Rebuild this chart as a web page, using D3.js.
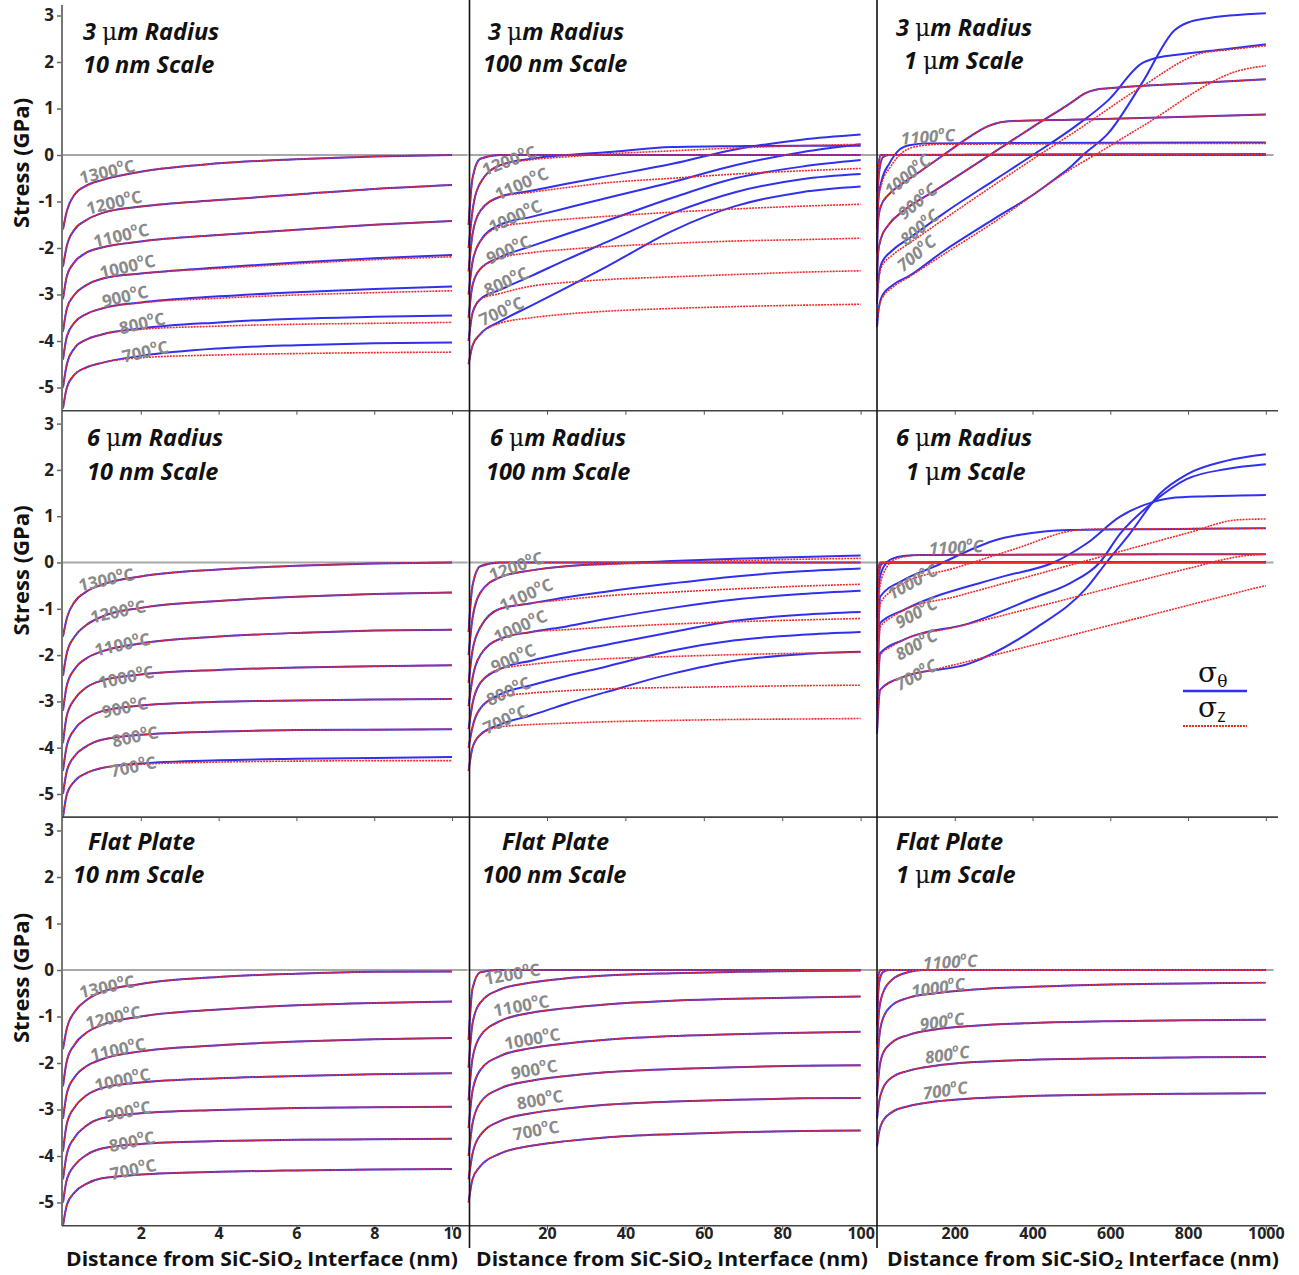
<!DOCTYPE html>
<html>
<head>
<meta charset="utf-8">
<script src="https://cdn.jsdelivr.net/npm/d3@7/dist/d3.min.js"></script>
<style>
  body { margin: 0; background: #fff; }
  svg { display: block; }
</style>
</head>
<body>
<div id="chart"></div>
<script>
// Stress vs distance from SiC-SiO2 interface, 3x3 panels

// ---- data ----
const temps = [1300, 1200, 1100, 1000, 900, 800, 700];

const x10nm = [0, 0.1, 0.3, 0.6, 1, 2, 4, 6, 8, 10];
const x100nm = [0, 1, 3, 8, 16, 25, 35, 52, 68, 85, 100];

const xTicks10 = [2, 4, 6, 8, 10];
const xTicks100 = [20, 40, 60, 80, 100];
const xTicks1um = [200, 400, 600, 800, 1000];
const yTicks = [3, 2, 1, 0, -1, -2, -3, -4, -5];

// 3 um radius, 10 nm scale (rows follow temps)
const r3_10_theta = [
  [-1.6, -1.2, -0.85, -0.66, -0.54, -0.36, -0.18, -0.09, -0.03, 0],
  [-2.4, -1.95, -1.6, -1.4, -1.25, -1.11, -0.97, -0.85, -0.73, -0.645],
  [-3.1, -2.6, -2.3, -2.1, -1.99, -1.86, -1.72, -1.61, -1.5, -1.42],
  [-3.8, -3.3, -3.0, -2.8, -2.66, -2.55, -2.42, -2.31, -2.22, -2.15],
  [-4.4, -3.9, -3.6, -3.42, -3.3, -3.17, -3.04, -2.95, -2.88, -2.83],
  [-5.0, -4.5, -4.15, -3.97, -3.86, -3.73, -3.6, -3.52, -3.48, -3.45],
  [-5.45, -5.0, -4.72, -4.57, -4.47, -4.32, -4.16, -4.09, -4.05, -4.03]
];
const r3_10_z = [
  [-1.6, -1.2, -0.85, -0.66, -0.54, -0.36, -0.18, -0.09, -0.03, 0],
  [-2.4, -1.95, -1.6, -1.4, -1.25, -1.11, -0.97, -0.85, -0.73, -0.645],
  [-3.1, -2.6, -2.3, -2.1, -1.99, -1.86, -1.72, -1.61, -1.5, -1.42],
  [-3.8, -3.3, -3.0, -2.8, -2.66, -2.55, -2.44, -2.34, -2.25, -2.19],
  [-4.4, -3.9, -3.6, -3.42, -3.3, -3.18, -3.08, -3.01, -2.96, -2.92],
  [-5.0, -4.5, -4.15, -3.97, -3.86, -3.75, -3.68, -3.64, -3.62, -3.6],
  [-5.45, -5.0, -4.72, -4.57, -4.47, -4.36, -4.3, -4.27, -4.25, -4.24]
];

// 6 um radius, 10 nm scale
const r6_10_theta = [
  [-1.6, -1.2, -0.85, -0.63, -0.48, -0.3, -0.15, -0.07, -0.02, 0],
  [-2.45, -1.95, -1.6, -1.35, -1.17, -0.98, -0.83, -0.74, -0.68, -0.65],
  [-3.2, -2.65, -2.3, -2.07, -1.92, -1.75, -1.6, -1.52, -1.47, -1.45],
  [-3.9, -3.3, -2.95, -2.7, -2.55, -2.42, -2.32, -2.27, -2.24, -2.22],
  [-4.5, -3.95, -3.6, -3.37, -3.21, -3.09, -3.01, -2.98, -2.96, -2.95],
  [-5.0, -4.5, -4.18, -3.97, -3.83, -3.72, -3.65, -3.62, -3.61, -3.6],
  [-5.5, -5.0, -4.72, -4.55, -4.44, -4.34, -4.27, -4.24, -4.22, -4.2]
];
const r6_10_z = [
  [-1.6, -1.2, -0.85, -0.63, -0.48, -0.3, -0.15, -0.07, -0.02, 0],
  [-2.45, -1.95, -1.6, -1.35, -1.17, -0.98, -0.83, -0.74, -0.68, -0.65],
  [-3.2, -2.65, -2.3, -2.07, -1.92, -1.75, -1.6, -1.52, -1.47, -1.45],
  [-3.9, -3.3, -2.95, -2.7, -2.55, -2.42, -2.32, -2.27, -2.24, -2.22],
  [-4.5, -3.95, -3.6, -3.37, -3.21, -3.09, -3.01, -2.98, -2.96, -2.95],
  [-5.0, -4.5, -4.18, -3.97, -3.83, -3.72, -3.65, -3.62, -3.61, -3.6],
  [-5.5, -5.0, -4.72, -4.55, -4.44, -4.36, -4.31, -4.29, -4.28, -4.28]
];

// flat plate, 10 nm scale (sigma_theta and sigma_z coincide)
const flat_10_theta = [
  [-1.7, -1.25, -0.9, -0.65, -0.47, -0.3, -0.15, -0.08, -0.04, -0.03],
  [-2.5, -1.95, -1.6, -1.35, -1.18, -1.0, -0.85, -0.76, -0.71, -0.68],
  [-3.2, -2.65, -2.3, -2.07, -1.92, -1.75, -1.62, -1.54, -1.49, -1.46],
  [-3.9, -3.3, -2.95, -2.7, -2.54, -2.42, -2.33, -2.28, -2.24, -2.22],
  [-4.5, -3.95, -3.6, -3.35, -3.19, -3.08, -3.01, -2.97, -2.95, -2.94],
  [-5.0, -4.5, -4.2, -3.98, -3.84, -3.74, -3.68, -3.65, -3.64, -3.63],
  [-5.5, -5.05, -4.78, -4.6, -4.48, -4.4, -4.34, -4.31, -4.29, -4.28]
];
const flat_10_z = flat_10_theta;

// 3 um radius, 100 nm scale
const r3_100_theta = [
  [-1.5, -0.5, -0.08, 0, 0, 0, 0, 0, 0, 0, 0],
  [-2.0, -1.2, -0.6, -0.22, -0.08, 0.0, 0.06, 0.17, 0.19, 0.2, 0.2],
  [-2.5, -1.7, -1.2, -0.9, -0.77, -0.62, -0.46, -0.19, 0.12, 0.33, 0.44],
  [-3.0, -2.3, -1.85, -1.5, -1.33, -1.14, -0.93, -0.58, -0.22, 0.06, 0.23],
  [-3.5, -2.8, -2.45, -2.2, -1.96, -1.7, -1.42, -0.92, -0.5, -0.25, -0.11],
  [-4.0, -3.4, -3.1, -2.9, -2.6, -2.25, -1.88, -1.25, -0.8, -0.52, -0.41],
  [-4.5, -4.1, -3.85, -3.58, -3.24, -2.85, -2.41, -1.63, -1.1, -0.8, -0.68]
];
const r3_100_z = [
  [-1.5, -0.5, -0.08, 0, 0, 0, 0, 0, 0, 0, 0],
  [-2.0, -1.2, -0.6, -0.22, -0.1, -0.04, 0.02, 0.09, 0.15, 0.2, 0.23],
  [-2.5, -1.7, -1.2, -0.9, -0.8, -0.7, -0.6, -0.5, -0.41, -0.34, -0.29],
  [-3.0, -2.3, -1.85, -1.55, -1.45, -1.38, -1.32, -1.23, -1.16, -1.1, -1.06],
  [-3.5, -2.8, -2.45, -2.22, -2.1, -2.03, -1.97, -1.9, -1.85, -1.82, -1.79],
  [-4.0, -3.4, -3.1, -2.98, -2.82, -2.74, -2.68, -2.62, -2.57, -2.52, -2.49],
  [-4.5, -4.1, -3.85, -3.62, -3.5, -3.42, -3.36, -3.3, -3.26, -3.23, -3.21]
];

// 6 um radius, 100 nm scale
const r6_100_theta = [
  [-1.5, -0.5, -0.08, 0, 0, 0, 0, 0, 0, 0, 0],
  [-2.0, -1.2, -0.65, -0.32, -0.17, -0.08, -0.03, 0.03, 0.08, 0.12, 0.15],
  [-2.6, -1.9, -1.4, -1.0, -0.88, -0.75, -0.63, -0.45, -0.3, -0.19, -0.13],
  [-3.1, -2.5, -2.0, -1.65, -1.5, -1.38, -1.22, -0.98, -0.8, -0.68, -0.61],
  [-3.6, -3.05, -2.6, -2.3, -2.12, -1.95, -1.78, -1.5, -1.26, -1.13, -1.07],
  [-4.0, -3.55, -3.15, -2.85, -2.65, -2.45, -2.25, -1.9, -1.68, -1.56, -1.5],
  [-4.5, -4.0, -3.72, -3.5, -3.3, -3.05, -2.8, -2.4, -2.12, -1.98, -1.93]
];
const r6_100_z = [
  [-1.5, -0.5, -0.08, 0, 0, 0, 0, 0, 0, 0, 0],
  [-2.0, -1.2, -0.65, -0.32, -0.17, -0.08, -0.04, 0.0, 0.04, 0.07, 0.09],
  [-2.6, -1.9, -1.4, -1.0, -0.88, -0.8, -0.72, -0.64, -0.57, -0.51, -0.47],
  [-3.1, -2.5, -2.0, -1.65, -1.5, -1.45, -1.4, -1.33, -1.28, -1.24, -1.21],
  [-3.6, -3.05, -2.6, -2.3, -2.2, -2.13, -2.08, -2.03, -1.99, -1.96, -1.94],
  [-4.0, -3.55, -3.15, -2.9, -2.82, -2.77, -2.73, -2.7, -2.68, -2.66, -2.65],
  [-4.5, -4.0, -3.72, -3.55, -3.5, -3.47, -3.44, -3.41, -3.39, -3.38, -3.37]
];

// flat plate, 100 nm scale
const flat_100_theta = [
  [-1.5, -0.4, -0.05, 0, 0, 0, 0, 0, 0, 0, 0],
  [-2.1, -1.15, -0.7, -0.42, -0.27, -0.18, -0.12, -0.07, -0.04, -0.02, -0.01],
  [-2.8, -1.9, -1.42, -1.1, -0.92, -0.82, -0.74, -0.66, -0.62, -0.59, -0.57],
  [-3.4, -2.6, -2.15, -1.85, -1.68, -1.58, -1.5, -1.42, -1.38, -1.35, -1.33],
  [-4.0, -3.3, -2.85, -2.55, -2.38, -2.28, -2.2, -2.13, -2.09, -2.06, -2.05],
  [-4.5, -3.95, -3.55, -3.25, -3.08, -2.98, -2.9, -2.83, -2.79, -2.76, -2.75],
  [-5.0, -4.5, -4.22, -3.95, -3.78, -3.68, -3.6, -3.53, -3.49, -3.46, -3.45]
];
const flat_100_z = flat_100_theta;

// 1 um scale panels: [distance nm, stress GPa] pairs
const r3_1um_theta = [
  [[0, -0.8], [4, -0.2], [10, 0], [1000, 0]],
  [[0, -1.2], [5, -0.4], [15, -0.05], [30, 0], [1000, 0.02]],
  [[0, -1.6], [4, -0.9], [12, -0.55], [32, -0.18], [57, 0.11], [83, 0.21], [130, 0.25], [1000, 0.27]],
  [[0, -2.1], [3, -1.4], [10, -1.1], [30, -0.85], [68, -0.6], [110, -0.36], [171, 0], [240, 0.4], [280, 0.6], [310, 0.69], [350, 0.73], [500, 0.76], [750, 0.81], [1000, 0.87]],
  [[0, -2.7], [3, -2.1], [10, -1.8], [30, -1.5], [68, -1.2], [150, -0.76], [290, 0], [400, 0.6], [509, 1.18], [531, 1.31], [560, 1.4], [620, 1.45], [800, 1.54], [1000, 1.63]],
  [[0, -3.2], [3, -2.75], [12, -2.32], [40, -2.05], [83, -1.79], [169, -1.27], [300, -0.55], [401, 0], [509, 0.61], [595, 1.18], [681, 1.97], [715, 2.08], [766, 2.15], [900, 2.28], [1000, 2.38]],
  [[0, -3.7], [3, -3.4], [12, -3.05], [40, -2.8], [83, -2.6], [169, -2.08], [300, -1.38], [411, -0.8], [460, -0.5], [500, -0.24], [530, 0], [595, 0.47], [681, 1.54], [766, 2.69], [800, 2.85], [840, 2.93], [1000, 3.05]]
];
const r3_1um_z = [
  [[0, -0.8], [4, -0.2], [10, 0], [1000, 0]],
  [[0, -1.2], [5, -0.4], [15, -0.05], [30, 0], [1000, 0.02]],
  [[0, -1.6], [4, -0.95], [12, -0.62], [35, -0.25], [65, 0.05], [100, 0.18], [160, 0.23], [1000, 0.25]],
  [[0, -2.1], [3, -1.4], [10, -1.1], [30, -0.85], [68, -0.6], [110, -0.36], [171, 0], [240, 0.4], [280, 0.6], [310, 0.69], [350, 0.73], [500, 0.76], [750, 0.81], [1000, 0.87]],
  [[0, -2.7], [3, -2.1], [10, -1.8], [30, -1.5], [68, -1.2], [150, -0.76], [290, 0], [400, 0.6], [509, 1.18], [531, 1.31], [560, 1.4], [620, 1.45], [800, 1.54], [1000, 1.63]],
  [[0, -3.2], [3, -2.8], [12, -2.4], [40, -2.15], [83, -1.9], [169, -1.4], [417, 0], [509, 0.5], [681, 1.47], [835, 2.19], [900, 2.26], [1000, 2.35]],
  [[0, -3.7], [3, -3.4], [12, -3.1], [40, -2.85], [83, -2.62], [169, -2.15], [300, -1.45], [509, -0.25], [560, 0], [681, 0.61], [938, 1.83], [1000, 1.92]]
];

const r6_1um_theta = [
  [[0, -0.8], [4, -0.1], [10, 0], [1000, 0]],
  [[0, -1.2], [4, -0.3], [12, -0.03], [25, 0], [1000, 0.01]],
  [[0, -1.7], [3, -0.9], [8, -0.3], [25, 0.0], [42, 0.09], [68, 0.14], [111, 0.16], [1000, 0.18]],
  [[0, -2.2], [3, -1.6], [8, -0.74], [68, -0.38], [150, -0.08], [239, 0.27], [300, 0.47], [368, 0.6], [430, 0.67], [496, 0.7], [700, 0.72], [1000, 0.74]],
  [[0, -2.7], [3, -2.0], [8, -1.31], [68, -1.03], [325, -0.3], [454, 0.0], [539, 0.41], [625, 0.99], [711, 1.31], [754, 1.39], [850, 1.43], [1000, 1.46]],
  [[0, -3.2], [3, -2.6], [8, -1.96], [68, -1.67], [239, -1.31], [411, -0.74], [496, -0.45], [573, 0], [625, 0.62], [711, 1.31], [796, 1.8], [900, 2.02], [1000, 2.12]],
  [[0, -3.7], [3, -3.2], [8, -2.75], [68, -2.47], [239, -2.18], [411, -1.4], [539, -0.55], [590, 0], [650, 0.62], [728, 1.49], [796, 1.9], [900, 2.2], [1000, 2.34]]
];
const r6_1um_z = [
  [[0, -0.8], [4, -0.1], [10, 0], [1000, 0]],
  [[0, -1.2], [4, -0.3], [12, -0.03], [25, 0], [1000, 0.01]],
  [[0, -1.7], [3, -1.0], [8, -0.5], [25, -0.1], [42, 0.05], [68, 0.12], [111, 0.16], [1000, 0.18]],
  [[0, -2.2], [3, -1.6], [8, -0.9], [40, -0.6], [68, -0.45], [200, -0.12], [350, 0.28], [514, 0.7], [560, 0.72], [800, 0.73], [1000, 0.74]],
  [[0, -2.7], [3, -2.1], [8, -1.4], [40, -1.17], [68, -1.03], [200, -0.74], [400, -0.28], [600, 0.18], [800, 0.64], [925, 0.92], [1000, 0.94]],
  [[0, -3.2], [3, -2.6], [8, -2.0], [40, -1.8], [68, -1.67], [200, -1.4], [400, -0.98], [600, -0.55], [800, -0.13], [925, 0.12], [960, 0.16], [1000, 0.18]],
  [[0, -3.7], [3, -3.2], [8, -2.75], [68, -2.47], [154, -2.3], [300, -2.0], [500, -1.57], [700, -1.14], [900, -0.71], [950, -0.6], [1000, -0.5]]
];

const flat_1um_theta = [
  [[0, -0.8], [4, -0.1], [10, 0], [1000, 0]],
  [[0, -1.2], [5, -0.3], [15, -0.05], [30, 0], [1000, 0]],
  [[0, -1.6], [5, -0.9], [15, -0.5], [40, -0.2], [80, -0.05], [120, 0], [1000, 0]],
  [[0, -2.2], [5, -1.5], [15, -1.05], [40, -0.75], [80, -0.6], [150, -0.5], [250, -0.42], [400, -0.36], [600, -0.31], [800, -0.29], [1000, -0.27]],
  [[0, -2.7], [5, -2.2], [15, -1.8], [40, -1.55], [80, -1.4], [150, -1.28], [250, -1.2], [400, -1.14], [600, -1.1], [800, -1.08], [1000, -1.07]],
  [[0, -3.2], [5, -2.85], [15, -2.55], [40, -2.3], [80, -2.17], [150, -2.06], [250, -1.98], [400, -1.93], [600, -1.9], [800, -1.88], [1000, -1.87]],
  [[0, -3.8], [5, -3.5], [15, -3.25], [40, -3.05], [80, -2.93], [150, -2.83], [250, -2.76], [400, -2.71], [600, -2.68], [800, -2.66], [1000, -2.65]]
];
const flat_1um_z = flat_1um_theta;

// temperature labels: [temp, distance, stress]
const labels_r3_10 = [[1300, 1.13, -0.34], [1200, 1.31, -1.0], [1100, 1.49, -1.71], [1000, 1.65, -2.38], [900, 1.59, -3.02], [800, 2.03, -3.6], [700, 2.11, -4.21]];
const labels_r6_10 = [[1300, 1.11, -0.35], [1200, 1.41, -1.04], [1100, 1.52, -1.75], [1000, 1.62, -2.46], [900, 1.59, -3.11], [800, 1.85, -3.74], [700, 1.8, -4.39]];
const labels_flat_10 = [[1300, 1.13, -0.34], [1200, 1.29, -1.0], [1100, 1.41, -1.69], [1000, 1.52, -2.34], [900, 1.67, -3.02], [800, 1.77, -3.67], [700, 1.8, -4.27]];
const labels_r3_100 = [[1200, 10.3, -0.1], [1100, 13.4, -0.6], [1000, 11.8, -1.3], [900, 10.1, -2.02], [800, 9.5, -2.7], [700, 8.3, -3.34]];
const labels_r6_100 = [[1200, 12.1, -0.06], [1100, 14.6, -0.68], [1000, 13.1, -1.36], [900, 11.3, -2.05], [800, 10.1, -2.76], [700, 9.3, -3.37]];
const labels_flat_100 = [[1200, 11.1, -0.07], [1100, 13.4, -0.75], [1000, 16.2, -1.46], [900, 16.7, -2.12], [800, 18.2, -2.77], [700, 17.2, -3.43]];
const labels_r3_1um = [[1100, 131, 0.41], [1000, 77, -0.42], [900, 103, -0.98], [800, 108, -1.54], [700, 100, -2.1]];
const labels_r6_1um = [[1100, 203, 0.35], [1000, 90, -0.4], [900, 100, -1.07], [800, 100, -1.76], [700, 100, -2.41]];
const labels_flat_1um = [[1100, 188, 0.19], [1000, 157, -0.36], [900, 167, -1.09], [800, 180, -1.8], [700, 175, -2.57]];

const titleTop = ["3 μm Radius", "6 μm Radius", "Flat Plate"];
const titleScale = ["10 nm Scale", "100 nm Scale", "1 μm Scale"];
const xTitle = "Distance from SiC-SiO";
const yTitle = "Stress (GPa)";

// ---- layout ----
const W = 1299, H = 1275;
const blue = "#3030ee", red = "#f02a2a", grayLabel = "#8a8a8a";

const colX = [
  d3.scaleLinear().domain([0, 10.4]).range([63, 467.6]),
  d3.scaleLinear().domain([0, 104]).range([468.6, 876.3]),
  d3.scaleLinear().domain([0, 1020]).range([877, 1273.6])
];
const zeroY = [155, 562.5, 970];
const unitY = [46.5, 46.3, 46.5];
const rowY = zeroY.map((z, i) => d3.scaleLinear()
  .domain([-5.5, 3.2])
  .range([z + 5.5 * unitY[i], z - 3.2 * unitY[i]]));

const panels = [
  { row: 0, col: 0, grid: x10nm, theta: r3_10_theta, z: r3_10_z, labels: labels_r3_10, ang: -13, ang0: -13, tx: [83, 83], ty: [40, 73] },
  { row: 0, col: 1, grid: x100nm, theta: r3_100_theta, z: r3_100_z, labels: labels_r3_100, ang: -24, ang0: -20, tx: [488, 483], ty: [40, 72] },
  { row: 0, col: 2, grid: null, theta: r3_1um_theta, z: r3_1um_z, labels: labels_r3_1um, ang: -40, ang0: -4, tx: [896, 904], ty: [36, 69] },
  { row: 1, col: 0, grid: x10nm, theta: r6_10_theta, z: r6_10_z, labels: labels_r6_10, ang: -12, ang0: -12, tx: [87, 87], ty: [446, 480] },
  { row: 1, col: 1, grid: x100nm, theta: r6_100_theta, z: r6_100_z, labels: labels_r6_100, ang: -24, ang0: -19, tx: [490, 486], ty: [446, 480] },
  { row: 1, col: 2, grid: null, theta: r6_1um_theta, z: r6_1um_z, labels: labels_r6_1um, ang: -29, ang0: -3, tx: [896, 906], ty: [446, 480] },
  { row: 2, col: 0, grid: x10nm, theta: flat_10_theta, z: flat_10_z, labels: labels_flat_10, ang: -12, ang0: -12, tx: [88, 73], ty: [850, 883] },
  { row: 2, col: 1, grid: x100nm, theta: flat_100_theta, z: flat_100_z, labels: labels_flat_100, ang: -10, ang0: -10, tx: [502, 482], ty: [850, 883] },
  { row: 2, col: 2, grid: null, theta: flat_1um_theta, z: flat_1um_z, labels: labels_flat_1um, ang: -8, ang0: -3, tx: [896, 896], ty: [850, 883] }
];

const svg = d3.select("#chart")
  .append("svg")
  .attr("width", W)
  .attr("height", H)
  .style("font-family", "'Open Sans', 'DejaVu Sans', sans-serif");

const line = d3.line().curve(d3.curveMonotoneX);

// title with an upright serif mu
function titleText(g, str, x, y) {
  const t = g.append("text")
    .attr("x", x).attr("y", y)
    .attr("font-size", 23.5)
    .attr("font-weight", "bold")
    .attr("font-style", "italic")
    .attr("fill", "#111");
  str.split(/(μ)/).forEach(part => {
    if (part === "μ") {
      t.append("tspan").attr("font-family", "'DejaVu Serif', serif")
        .attr("font-style", "normal").attr("font-weight", "normal").text("μ");
    } else if (part) {
      t.append("tspan").text(part);
    }
  });
}

panels.forEach(p => {
  const x = colX[p.col];
  const y = rowY[p.row];
  const g = svg.append("g");

  // zero reference line
  g.append("line")
    .attr("x1", x.range()[0]).attr("x2", x.range()[1])
    .attr("y1", y(0)).attr("y2", y(0))
    .attr("stroke", "#a8a8a8")
    .attr("stroke-width", 2);

  const toPts = s => p.grid ? s.map((v, i) => [p.grid[i], v]) : s;
  line.x(d => x(d[0])).y(d => y(d[1]));

  g.selectAll("path.theta")
    .data(p.theta.map(toPts))
    .join("path")
    .attr("class", "theta")
    .attr("d", line)
    .attr("fill", "none")
    .attr("stroke", blue)
    .attr("stroke-width", 2);

  g.selectAll("path.sz")
    .data(p.z.map(toPts))
    .join("path")
    .attr("class", "sz")
    .attr("d", line)
    .attr("fill", "none")
    .attr("stroke", red)
    .attr("stroke-width", 1.6)
    .attr("stroke-dasharray", "2,1");

  // temperature labels
  p.labels.forEach((l, i) => {
    const ang = i === 0 ? p.ang0 : p.ang;
    const t = g.append("text")
      .attr("transform", `translate(${x(l[1])},${y(l[2])}) rotate(${ang})`)
      .attr("text-anchor", "middle")
      .attr("dominant-baseline", "central")
      .attr("font-size", 17)
      .attr("font-weight", "bold")
      .attr("font-style", p.col === 2 ? "italic" : "normal")
      .attr("fill", grayLabel);
    t.append("tspan").text(l[0]);
    t.append("tspan").attr("dy", -6).attr("font-size", 11).text("o");
    t.append("tspan").attr("dy", 6).text("C");
  });

  // panel titles
  titleText(svg, titleTop[p.row], p.tx[0], p.ty[0]);
  titleText(svg, titleScale[p.col], p.tx[1], p.ty[1]);
});

// Y axes (left column only)
rowY.forEach((y, r) => {
  const ax = svg.append("g")
    .attr("transform", "translate(62,0)")
    .call(d3.axisLeft(y).tickValues(yTicks).tickSize(5).tickFormat(d => String(d)));
  ax.select(".domain").remove();
  ax.selectAll(".tick line").attr("stroke", "#666").attr("stroke-width", 1.5);
  ax.selectAll(".tick text")
    .attr("font-size", 17).attr("font-weight", "bold")
    .attr("fill", "#222").attr("x", -8)
    .style("font-family", "'Open Sans', sans-serif");

  svg.append("text")
    .attr("transform", `translate(29,${zeroY[r] + 8}) rotate(-90)`)
    .attr("text-anchor", "middle")
    .attr("font-size", 22)
    .attr("font-weight", "bold")
    .attr("fill", "#111")
    .text(yTitle);
});

// Y axis line through all rows
svg.append("line")
  .attr("x1", 62).attr("x2", 62)
  .attr("y1", 5).attr("y2", 1226)
  .attr("stroke", "#777").attr("stroke-width", 2);

// bottom axis line of each row, with ticks
const xTickSets = [xTicks10, xTicks100, xTicks1um];
rowY.forEach((y, r) => {
  const yb = y(-5.5);
  svg.append("line")
    .attr("x1", 62).attr("x2", 1278)
    .attr("y1", yb).attr("y2", yb)
    .attr("stroke", "#444").attr("stroke-width", 1.6);
  colX.forEach((x, c) => {
    const ax = svg.append("g")
      .attr("transform", `translate(0,${yb})`)
      .call(d3.axisBottom(x).tickValues(xTickSets[c]).tickSize(4)
        .tickFormat(r === 2 ? (d => String(d)) : () => ""));
    ax.select(".domain").remove();
    ax.selectAll(".tick line").attr("stroke", "#555");
    ax.selectAll(".tick text")
      .attr("font-size", 16).attr("font-weight", "bold")
      .attr("fill", "#222").attr("y", 2)
      .style("font-family", "'Open Sans', sans-serif");
  });
});

// column dividers
[469.5, 877].forEach(xd => {
  svg.append("line")
    .attr("x1", xd).attr("x2", xd)
    .attr("y1", 0).attr("y2", 1248)
    .attr("stroke", "#111").attr("stroke-width", 1.6);
});

// x axis titles
[262, 672, 1083].forEach(cx => {
  const t = svg.append("text")
    .attr("x", cx).attr("y", 1266)
    .attr("text-anchor", "middle")
    .attr("font-size", 19)
    .attr("font-weight", "bold")
    .attr("fill", "#111")
    .attr("textLength", 392)
    .attr("lengthAdjust", "spacingAndGlyphs");
  t.append("tspan").text(xTitle);
  t.append("tspan").attr("dy", 3).attr("font-size", 13).text("2");
  t.append("tspan").attr("dy", -3).text(" Interface (nm)");
});

// legend (sigma_theta / sigma_z)
const lg = svg.append("g").style("font-family", "'DejaVu Serif', serif");
const s1 = lg.append("text").attr("x", 1198).attr("y", 682).attr("font-size", 28).attr("fill", "#111");
s1.append("tspan").text("σ");
s1.append("tspan").attr("dy", 5).attr("font-size", 17).text("θ");
lg.append("line").attr("x1", 1183).attr("x2", 1247).attr("y1", 691).attr("y2", 691)
  .attr("stroke", blue).attr("stroke-width", 2.5);
const s2 = lg.append("text").attr("x", 1198).attr("y", 717).attr("font-size", 28).attr("fill", "#111");
s2.append("tspan").text("σ");
s2.append("tspan").attr("dy", 5).attr("font-size", 18).style("font-family", "'Open Sans', sans-serif").text("z");
lg.append("line").attr("x1", 1183).attr("x2", 1247).attr("y1", 726).attr("y2", 726)
  .attr("stroke", red).attr("stroke-width", 1.8).attr("stroke-dasharray", "2,1");
</script>
</body>
</html>
